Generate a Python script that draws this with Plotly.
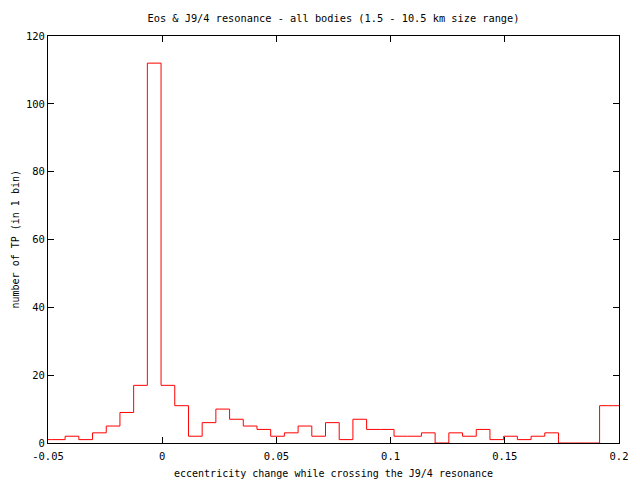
import plotly.graph_objects as go

# histogram bins (width 0.006), left edge of first bin and counts per bin
bin_start = -0.0545
bin_width = 0.006
counts = [1, 1, 2, 1, 3, 5, 9, 17, 112, 17, 11, 2, 6, 10, 7, 5, 4, 2, 3, 5,
          2, 6, 1, 7, 4, 4, 2, 2, 3, 0, 3, 2, 4, 1, 2, 1, 2, 3, 0, 0,
          0, 11, 11]

x_tick_vals = [-0.05, 0, 0.05, 0.1, 0.15, 0.2]
x_tick_text = ["-0.05", "0", "0.05", "0.1", "0.15", "0.2"]
y_tick_vals = [0, 20, 40, 60, 80, 100, 120]

edges = [bin_start + bin_width * i for i in range(len(counts) + 1)]
xs = edges
ys = counts + [counts[-1]]

font = "DejaVu Sans Mono"
W, H = 632, 472  # page has an 8px body margin

fig = go.Figure()
fig.add_trace(go.Scatter(x=xs, y=ys, mode="lines", line=dict(color="#ff0000", width=1, shape="hv"),
                         showlegend=False, hoverinfo="skip"))

fig.update_layout(
    width=W, height=H,
    margin=dict(l=40, r=18, t=28, b=37),
    paper_bgcolor="white", plot_bgcolor="white",
    font=dict(family=font, size=10, color="black"),
    title=dict(text="Eos &amp; J9/4 resonance - all bodies (1.5 - 10.5 km size range)",
               x=0.5, xref="paper", y=1 - 10 / H, yref="container",
               xanchor="center", yanchor="middle", font=dict(family=font, size=10.3)),
    xaxis=dict(range=[-0.05, 0.2], tickvals=x_tick_vals, ticktext=x_tick_text,
               ticks="inside", ticklen=6, tickcolor="black", showline=True, linecolor="black",
               linewidth=1, mirror="ticks", showgrid=False, zeroline=False,
               ticklabelstandoff=3, tickfont=dict(family=font, size=10.5)),
    yaxis=dict(range=[0, 120], tickvals=y_tick_vals, ticks="inside", ticklen=6, tickcolor="black",
               showline=True, linecolor="black", linewidth=1, mirror="ticks",
               showgrid=False, zeroline=False, tickfont=dict(family=font, size=10.5)),
    annotations=[
        dict(text="eccentricity change while crossing the J9/4 resonance", xref="paper", yref="paper",
             x=0.5, y=0, yshift=-30, xanchor="center", yanchor="middle", showarrow=False,
             font=dict(family=font, size=10)),
        dict(text="number of TP (in 1 bin)", xref="paper", yref="paper", x=0, xshift=-33,
             y=0.5, textangle=-90, xanchor="center", yanchor="middle", showarrow=False,
             font=dict(family=font, size=10)),
    ],
)

fig.write_html("out.html")
